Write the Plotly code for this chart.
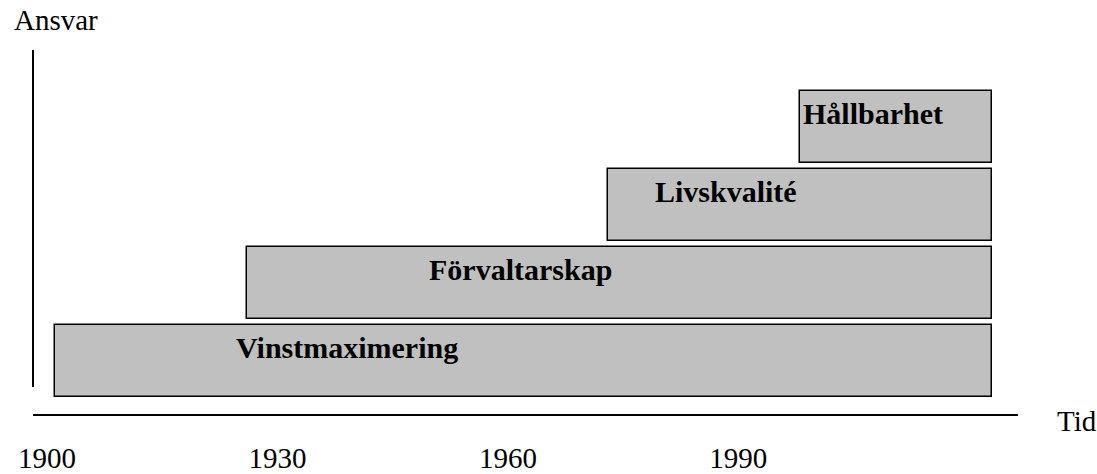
import plotly.graph_objects as go

# ---- data ----
phases = ["Vinstmaximering", "Förvaltarskap", "Livskvalité", "Hållbarhet"]
start_year = [1901, 1926, 1973, 1998]
end_year = [2023, 2023, 2023, 2023]
level = [1, 2, 3, 4]
label_year = [1939, 1961.7, 1988.4, 1998.1]
label_anchor = ["center", "center", "center", "left"]
tick_years = [1900, 1930, 1960, 1990]
tick_labels = ["1900", "1930", "1960", "1990"]

SERIF = "Liberation Serif"

fig = go.Figure()
fig.add_trace(go.Bar(
    orientation="h",
    y=level,
    x=[e - s for s, e in zip(start_year, end_year)],
    base=start_year,
    width=0.923,
    marker=dict(color="#c0c0c0", line=dict(color="#000000", width=1.5)),
    hoverinfo="skip",
    showlegend=False,
))

for name, lx, lv, anc in zip(phases, label_year, level, label_anchor):
    fig.add_annotation(
        x=lx, y=lv + 0.17, xref="x", yref="y", text="<b>" + name + "</b>",
        showarrow=False, xanchor=anc, yanchor="middle",
        font=dict(family=SERIF, size=30, color="#000000"),
    )

fig.add_annotation(x=-0.0213, y=1.082, xref="paper", yref="paper", text="Ansvar",
                   showarrow=False, xanchor="left", yanchor="middle",
                   font=dict(family=SERIF, size=29, color="#000000"))
fig.add_annotation(x=1.0376, y=-0.0192, xref="paper", yref="paper", text="Tid",
                   showarrow=False, xanchor="left", yanchor="middle",
                   font=dict(family=SERIF, size=29, color="#000000"))

# vertical (Ansvar) axis line, shorter than the plot height
fig.add_shape(type="line", xref="paper", yref="paper", x0=0, x1=0, y0=0.0742, y1=1,
              line=dict(color="#000000", width=2))

fig.update_layout(
    width=1097, height=474,
    margin=dict(l=33, r=79, t=50, b=60),
    paper_bgcolor="white", plot_bgcolor="white",
    bargap=0,
    xaxis=dict(
        range=[1898.18, 2026.4], showgrid=False, zeroline=False, automargin=False,
        showline=True, linecolor="#000000", linewidth=2,
        tickvals=tick_years, ticktext=tick_labels,
        ticks="outside", ticklen=0, ticklabelstandoff=17,
        tickfont=dict(family=SERIF, size=29, color="#000000"),
    ),
    yaxis=dict(
        range=[0.3205, 4.987], showgrid=False, zeroline=False, automargin=False,
        showline=False, showticklabels=False, ticks="",
    ),
)

fig.write_html("out.html", config={"displayModeBar": False},
               post_script="document.body.style.margin='0px';document.body.style.overflow='hidden';")
